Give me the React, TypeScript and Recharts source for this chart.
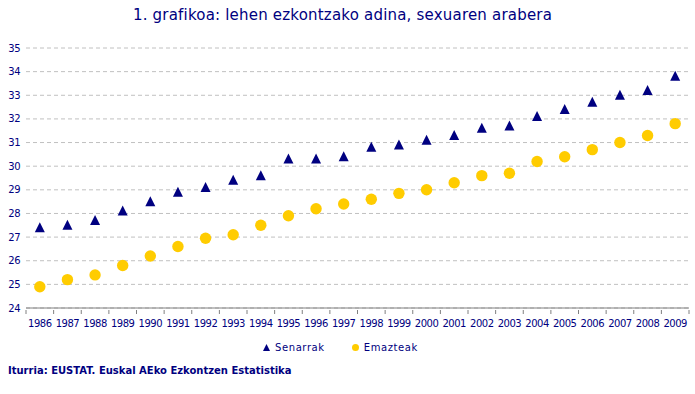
import { CartesianGrid, Legend, Line, LineChart, XAxis, YAxis } from "recharts";

const years = [
  "1986", "1987", "1988", "1989", "1990", "1991", "1992", "1993", "1994", "1995", "1996", "1997",
  "1998", "1999", "2000", "2001", "2002", "2003", "2004", "2005", "2006", "2007", "2008", "2009",
];
const senarrak = [
  27.4, 27.5, 27.7, 28.1, 28.5, 28.9, 29.1, 29.4, 29.6, 30.3, 30.3, 30.4,
  30.8, 30.9, 31.1, 31.3, 31.6, 31.7, 32.1, 32.4, 32.7, 33.0, 33.2, 33.8,
];
const emazteak = [
  24.9, 25.2, 25.4, 25.8, 26.2, 26.6, 26.95, 27.1, 27.5, 27.9, 28.2, 28.4,
  28.6, 28.85, 29.0, 29.3, 29.6, 29.7, 30.2, 30.4, 30.7, 31.0, 31.3, 31.8,
];
const yTicks = [24, 25, 26, 27, 28, 29, 30, 31, 32, 33, 34, 35];

const NAVY = "#000080";
const GOLD = "#ffcc00";
const AXIS = "#808080";
const FONT = "'DejaVu Sans', Verdana, sans-serif";

const data = years.map((year, i) => ({ year, senarrak: senarrak[i], emazteak: emazteak[i] }));

function Triangle(props: any) {
  const { cx, cy } = props;
  if (cx == null || cy == null) return null;
  return <polygon points={`${cx},${cy - 5.5} ${cx + 5},${cy + 4.5} ${cx - 5},${cy + 4.5}`} fill={NAVY} />;
}

function Dot(props: any) {
  const { cx, cy } = props;
  if (cx == null || cy == null) return null;
  return <circle cx={cx} cy={cy} r={5.7} fill={GOLD} />;
}

// year label plus the small tick marks that sit between the categories
function YearTick(props: any) {
  const { x, y, payload, index, width, visibleTicksCount } = props;
  const band = width / visibleTicksCount;
  const left = x - band / 2;
  return (
    <g>
      <line x1={left} x2={left} y1={y} y2={y + 4} stroke={AXIS} />
      {index === visibleTicksCount - 1 && <line x1={left + band} x2={left + band} y1={y} y2={y + 4} stroke={AXIS} />}
      <text
        x={x}
        y={y + 17}
        textAnchor="middle"
        fill={NAVY}
        fontSize={10}
        fontFamily={FONT}
        letterSpacing={-0.5}
      >
        {payload.value}
      </text>
    </g>
  );
}

function LegendContent() {
  const item = { display: "flex", alignItems: "center", gap: 5 } as const;
  return (
    <div style={{ display: "flex", gap: 27, fontFamily: FONT, fontSize: 10, color: NAVY, letterSpacing: 0.6 }}>
      <div style={item}>
        <svg width={7} height={7}>
          <polygon points="3.5,0 7,7 0,7" fill={NAVY} />
        </svg>
        Senarrak
      </div>
      <div style={item}>
        <svg width={7} height={7}>
          <circle cx={3.5} cy={3.5} r={3.5} fill={GOLD} />
        </svg>
        Emazteak
      </div>
    </div>
  );
}

export default function App() {
  return (
    <div style={{ position: "absolute", left: 0, top: 0, width: 695, height: 394, background: "#fff" }}>
      <div
        style={{
          position: "absolute",
          top: 6,
          left: 0,
          width: 685,
          textAlign: "center",
          fontFamily: FONT,
          fontSize: 15,
          letterSpacing: 0.2,
          color: NAVY,
        }}
      >
        1. grafikoa: lehen ezkontzako adina, sexuaren arabera
      </div>
      <LineChart width={695} height={394} data={data} margin={{ top: 48, right: 6, bottom: 56, left: 0 }}>
        <CartesianGrid stroke="#c0c0c0" strokeDasharray="4 3" vertical={false} />
        <XAxis
          dataKey="year"
          scale="band"
          interval={0}
          stroke={AXIS}
          tickLine={false}
          tickSize={0}
          height={30}
          tick={<YearTick />}
        />
        <YAxis
          domain={[24, 35]}
          ticks={yTicks}
          interval={0}
          width={26}
          axisLine={false}
          tickLine={false}
          tickSize={4}
          tickMargin={2}
          tick={{ fill: NAVY, fontSize: 10, fontFamily: FONT, letterSpacing: -0.5 }}
        />
        <Legend
          verticalAlign="middle"
          align="center"
          wrapperStyle={{ top: 342, left: 263, width: "auto" }}
          content={() => <LegendContent />}
        />
        <Line
          dataKey="senarrak"
          name="Senarrak"
          stroke="none"
          dot={<Triangle />}
          activeDot={false}
          isAnimationActive={false}
        />
        <Line
          dataKey="emazteak"
          name="Emazteak"
          stroke="none"
          dot={<Dot />}
          activeDot={false}
          isAnimationActive={false}
        />
      </LineChart>
      <div
        style={{
          position: "absolute",
          top: 365,
          left: 8,
          fontFamily: FONT,
          fontSize: 10,
          fontWeight: "bold",
          color: NAVY,
        }}
      >
        Iturria: EUSTAT. Euskal AEko Ezkontzen Estatistika
      </div>
    </div>
  );
}
